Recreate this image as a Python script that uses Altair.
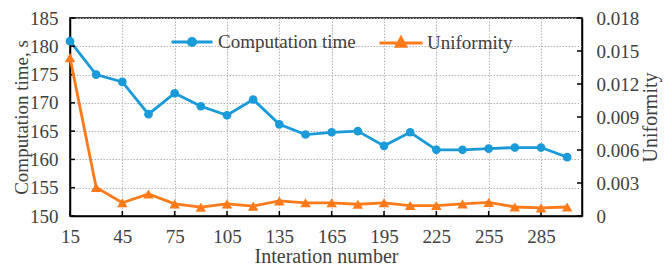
import altair as alt
import pandas as pd

iterations = [15, 30, 45, 60, 75, 90, 105, 120, 135, 150, 165, 180, 195, 210, 225, 240, 255, 270, 285, 300]
comp_time = [180.9, 175.0, 173.7, 168.0, 171.7, 169.4, 167.8, 170.6, 166.2, 164.4,
             164.8, 165.0, 162.4, 164.8, 161.7, 161.7, 161.9, 162.1, 162.1, 160.4]
uniformity = [0.0144, 0.0026, 0.0012, 0.0020, 0.0011, 0.0008, 0.0011, 0.0009, 0.00137, 0.0012,
              0.0012, 0.00107, 0.0012, 0.00095, 0.00095, 0.0011, 0.00124, 0.00082, 0.00073, 0.00082]
x_ticks = [15, 45, 75, 105, 135, 165, 195, 225, 255, 285]
left_ticks = [150, 155, 160, 165, 170, 175, 180, 185]
right_ticks = [0, 0.003, 0.006, 0.009, 0.012, 0.015, 0.018]

BLUE = "#1a9ad8"
ORANGE = "#ff7a1a"
TEXT = "#404040"
FONT = "Liberation Serif"
W, H = 512, 198

df = pd.DataFrame({
    "iter": iterations,
    "time": comp_time,
    "unif": uniformity,
    "s1": ["Computation time"] * len(iterations),
    "s2": ["Uniformity"] * len(iterations),
})
dfx = pd.DataFrame({"x": x_ticks})
dfl = pd.DataFrame({"v": left_ticks})
dfr = pd.DataFrame({"v": right_ticks})

grid_common = dict(gridColor="#b5b5b5", gridDash=[1.5, 1.5], gridWidth=1)

x_axis = alt.Axis(values=x_ticks, title="Interation number", ticks=False, tickSize=0,
                  labelPadding=11, labelFlush=False, grid=True, titlePadding=0, **grid_common)
x_scale = alt.Scale(domain=[15, 308.5], nice=False, zero=False)

left_axis = alt.Axis(values=left_ticks, title="Computation time, s", ticks=False, tickSize=0,
                     labelPadding=12, labelFlush=False, grid=True, titlePadding=-2,
                     titleFontSize=19, **grid_common)
left_scale = alt.Scale(domain=[150, 185], nice=False, zero=False)

right_axis = alt.Axis(values=right_ticks, title="Uniformity", orient="right", ticks=False, tickSize=0,
                      labelPadding=14, labelFlush=False, grid=False, titleAngle=270, titlePadding=22,
                      labelExpr="datum.value == 0 ? '0' : format(datum.value, '.3f')")
right_scale = alt.Scale(domain=[0, 0.018], nice=False, zero=False)

X = alt.X("iter:Q", scale=x_scale, axis=x_axis)

blue_sym = "M-1,0L1,0M0.18,0A0.18,0.18,0,1,1,-0.18,0A0.18,0.18,0,1,1,0.18,0Z"
orange_sym = "M-1,0L1,0M0,-0.25L0.22,0.15L-0.22,0.15Z"

blue_line = alt.Chart(df).mark_line(strokeWidth=2.8).encode(
    x=X,
    y=alt.Y("time:Q", scale=left_scale, axis=left_axis),
    color=alt.Color("s1:N", scale=alt.Scale(domain=["Computation time"], range=[BLUE]),
                    legend=alt.Legend(title=None, orient="none", legendX=100, legendY=2,
                                      symbolType=blue_sym, symbolSize=1681, symbolFillColor=BLUE,
                                      symbolStrokeColor=BLUE, symbolStrokeWidth=2.8, labelOffset=4,
                                      padding=0, labelFont=FONT, labelFontSize=19, labelColor=TEXT)),
)
blue_pts = alt.Chart(df).mark_point(filled=True, shape="circle", size=75, color=BLUE, opacity=1).encode(
    x=X, y=alt.Y("time:Q", scale=left_scale, axis=left_axis))

x_tick_rules = alt.Chart(dfx).mark_rule(color="black", strokeWidth=1.5).encode(
    x=alt.X("x:Q", scale=x_scale, axis=x_axis), y=alt.value(H), y2=alt.value(H - 5))
left_tick_rules = alt.Chart(dfl).mark_rule(color="black", strokeWidth=1.5).encode(
    y=alt.Y("v:Q", scale=left_scale, axis=left_axis), x=alt.value(0), x2=alt.value(5))

layer_a = alt.layer(blue_line, blue_pts, x_tick_rules, left_tick_rules)

orange_line = alt.Chart(df).mark_line(strokeWidth=2.8).encode(
    x=X,
    y=alt.Y("unif:Q", scale=right_scale, axis=right_axis),
    color=alt.Color("s2:N", scale=alt.Scale(domain=["Uniformity"], range=[ORANGE]),
                    legend=alt.Legend(title=None, orient="none", legendX=308, legendY=2,
                                      symbolType=orange_sym, symbolSize=1849, symbolFillColor=ORANGE,
                                      symbolStrokeColor=ORANGE, symbolStrokeWidth=2.8, labelOffset=3,
                                      padding=0, labelFont=FONT, labelFontSize=19, labelColor=TEXT)),
)
orange_pts = alt.Chart(df).mark_point(filled=True, shape="triangle-up", size=110, color=ORANGE, opacity=1).encode(
    x=X, y=alt.Y("unif:Q", scale=right_scale, axis=right_axis))
right_tick_rules = alt.Chart(dfr).mark_rule(color="black", strokeWidth=1.5).encode(
    y=alt.Y("v:Q", scale=right_scale, axis=right_axis), x=alt.value(W - 5), x2=alt.value(W))

layer_b = alt.layer(orange_line, orange_pts, right_tick_rules)

chart = alt.layer(layer_a, layer_b).resolve_scale(
    y="independent", color="independent"
).resolve_legend(color="independent").properties(
    width=W, height=H,
    autosize=alt.AutoSizeParams(type="none"),
    padding={"left": 62, "top": 10, "right": 81, "bottom": 52},
).configure_view(stroke="black", strokeWidth=1.5).configure_axis(
    domainColor="black", domainWidth=1.5,
    labelFont=FONT, labelFontSize=19, labelColor=TEXT,
    titleFont=FONT, titleFontSize=20, titleColor=TEXT, titleFontWeight="normal",
)

chart.save("out.html", embed_options={"renderer": "svg", "actions": False})
